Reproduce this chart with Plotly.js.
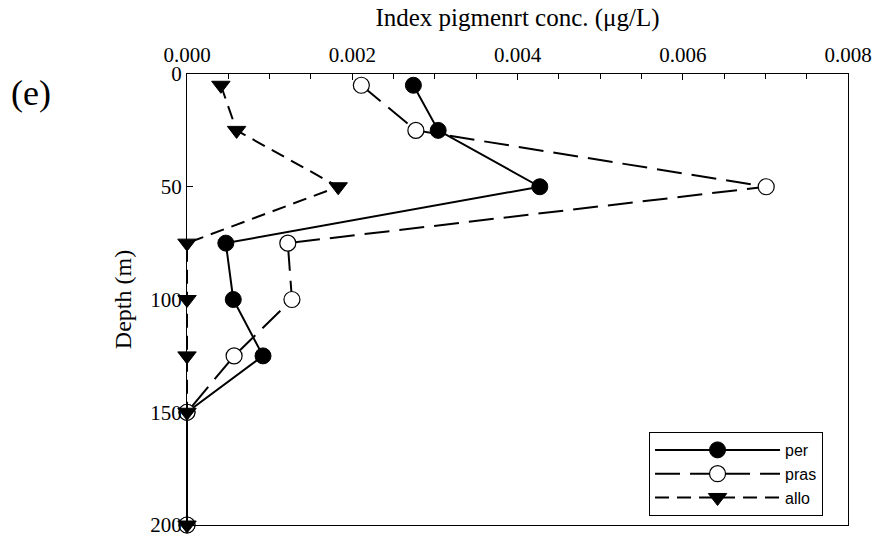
<!DOCTYPE html>
<html>
<head>
<meta charset="utf-8">
<script src="https://cdn.plot.ly/plotly-3.0.1.min.js"></script>
<style>html,body{margin:0;padding:0;background:#fff;}#chart{width:877px;height:537px;}</style>
</head>
<body>
<div id="chart"></div>
<script>
var depth = [5, 25, 50, 75, 100, 125, 150, 200];
var per  = [0.00274, 0.00304, 0.00427, 0.00047, 0.00056, 0.00092, 0, 0];
var pras = [0.00211, 0.00277, 0.00701, 0.00122, 0.00127, 0.00057, 0, 0];
var allo = [0.00041, 0.00060, 0.00183, 0, 0, 0, 0, 0];
var seriesNames = ['per', 'pras', 'allo'];
var xTitle = 'Index pigmenrt conc. (\u03bcg/L)';
var yTitle = 'Depth (m)';
var panelLabel = '(e)';

var serif = 'Liberation Serif, Times New Roman, serif';
var sans = 'Liberation Sans, Arial, sans-serif';

var traces = [
  {x: per, y: depth, name: seriesNames[0], mode: 'lines+markers', cliponaxis: false,
   line: {color: '#000', width: 2, dash: 'solid'},
   marker: {symbol: 'circle', size: 16, color: '#000', line: {color: '#000', width: 1}}},
  {x: pras, y: depth, name: seriesNames[1], mode: 'lines+markers', cliponaxis: false,
   line: {color: '#000', width: 2, dash: '25px,10px'},
   marker: {symbol: 'circle', size: 16, color: '#fff', line: {color: '#000', width: 1.2}}},
  {x: allo, y: depth, name: seriesNames[2], mode: 'lines+markers', cliponaxis: false,
   line: {color: '#000', width: 2, dash: '14px,8px'},
   marker: {symbol: 'triangle-down', size: 16, color: '#000', line: {color: '#000', width: 1}}}
];

var layout = {
  width: 877, height: 537,
  margin: {l: 187, r: 29, t: 74, b: 12},
  paper_bgcolor: '#fff', plot_bgcolor: '#fff',
  showlegend: true,
  font: {family: serif, color: '#000', size: 21},
  xaxis: {
    side: 'top', range: [0, 0.008], dtick: 0.002, tick0: 0, tickformat: '.3f',
    ticks: 'inside', ticklen: 6, tickwidth: 1, tickcolor: '#000',
    minor: {dtick: 0.0005, ticks: 'inside', ticklen: 5, tickwidth: 1, tickcolor: '#000'},
    showline: true, linecolor: '#000', linewidth: 1, mirror: true,
    showgrid: false, zeroline: false, automargin: false,
    ticklabelstandoff: 3, ticklabeloverflow: 'allow',
    tickfont: {family: serif, size: 21, color: '#000'},
    title: {text: xTitle, font: {family: serif, size: 25, color: '#000'}, standoff: 8}
  },
  yaxis: {
    range: [200, 0], dtick: 50, tick0: 0,
    ticks: 'inside', ticklen: 6, tickwidth: 1, tickcolor: '#000',
    showline: true, linecolor: '#000', linewidth: 1, mirror: true,
    showgrid: false, zeroline: false, automargin: false,
    ticklabeloverflow: 'allow',
    tickfont: {family: serif, size: 21, color: '#000'},
    title: {text: yTitle, font: {family: serif, size: 24, color: '#000'}, standoff: 11}
  },
  legend: {
    x: 0.699, xanchor: 'left', y: 0.02, yanchor: 'bottom',
    bgcolor: '#fff', bordercolor: '#000', borderwidth: 1,
    font: {family: sans, size: 16, color: '#000'},
    itemwidth: 125, tracegroupgap: 0
  },
  annotations: [{
    text: panelLabel, xref: 'paper', yref: 'paper', x: -0.236, y: 0.957,
    xanchor: 'center', yanchor: 'middle', showarrow: false,
    font: {family: serif, size: 36, color: '#000'}
  }]
};

Plotly.newPlot('chart', traces, layout, {displayModeBar: false, staticPlot: true});
</script>
</body>
</html>
